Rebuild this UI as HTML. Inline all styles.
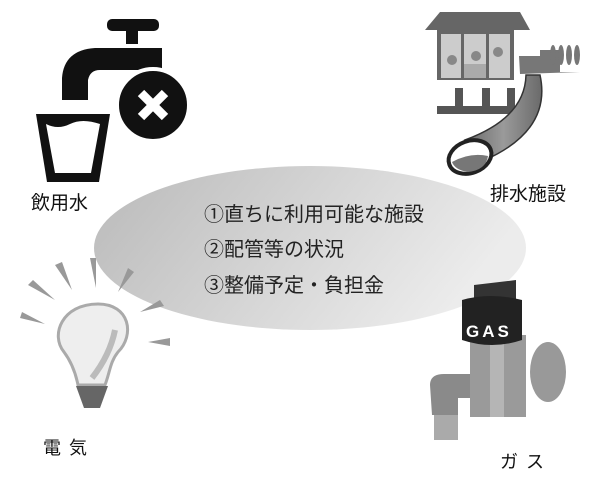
<!DOCTYPE html>
<html><head><meta charset="utf-8"><style>
html,body{margin:0;padding:0;background:#fff;width:600px;height:480px;overflow:hidden}
svg{display:block}
text{font-family:"Liberation Sans","Noto Sans CJK JP",sans-serif}
</style></head><body>
<svg width="600" height="480" viewBox="0 0 600 480" xmlns="http://www.w3.org/2000/svg">
<defs>
<linearGradient id="eg" x1="0" y1="0" x2="1" y2="0.3">
<stop offset="0" stop-color="#b9b9b9"/><stop offset="0.6" stop-color="#d8d8d8"/><stop offset="1" stop-color="#ececec"/>
</linearGradient>
<linearGradient id="pipe" x1="0" y1="0" x2="1" y2="0">
<stop offset="0" stop-color="#6a6a6a"/><stop offset="0.5" stop-color="#9a9a9a"/><stop offset="1" stop-color="#6a6a6a"/>
</linearGradient>
</defs>
<ellipse cx="310" cy="248" rx="216" ry="82" fill="url(#eg)"/>
<text x="204" y="221" font-size="20" fill="#222">①直ちに利用可能な施設</text>
<text x="204" y="256" font-size="20" fill="#222">②配管等の状況</text>
<text x="204" y="292" font-size="20" fill="#222">③整備予定・負担金</text>

<g fill="#111">
<rect x="107" y="19" width="52" height="12" rx="5"/>
<rect x="126" y="30" width="12" height="14"/>
<path d="M105 48 H162 V70 H100 Q90 70 88 80 V100 H62 V78 Q64 50 95 48 Z"/>
</g>
<circle cx="153" cy="105" r="36" fill="#111" stroke="#fff" stroke-width="4"/>
<path d="M141 93 L165 117 M165 93 L141 117" stroke="#fff" stroke-width="9"/>
<path d="M36 114 H110 L99 182 H47 Z" fill="#111"/>
<path d="M46 124 Q58 130 70 124 T100 124 L91 173 H55 Z" fill="#fff"/>
<text x="31" y="209" font-size="19" fill="#111">飲用水</text>

<g>
<path d="M425 30 L440 12 H520 L530 30 Z" fill="#666"/>
<rect x="437" y="30" width="77" height="50" fill="#666"/>
<rect x="441" y="34" width="20" height="44" fill="#ccc"/>
<rect x="464" y="34" width="22" height="44" fill="#ccc"/>
<rect x="489" y="34" width="21" height="44" fill="#ccc"/>
<circle cx="452" cy="60" r="5" fill="#888"/><circle cx="476" cy="56" r="5" fill="#888"/><circle cx="498" cy="52" r="5" fill="#888"/>
<rect x="464" y="64" width="22" height="14" fill="#aaa"/>
<rect x="437" y="106" width="94" height="8" fill="#555"/>
<rect x="455" y="88" width="8" height="20" fill="#555"/><rect x="482" y="88" width="8" height="20" fill="#555"/><rect x="507" y="88" width="8" height="20" fill="#555"/>
<path d="M519 56 H540 V50 H560 L560 72 H580 L520 74 Z" fill="#777"/>
<ellipse cx="553" cy="55" rx="3" ry="10" fill="#777"/><ellipse cx="561" cy="55" rx="3" ry="10" fill="#777"/><ellipse cx="569" cy="55" rx="3" ry="10" fill="#777"/><ellipse cx="577" cy="55" rx="3" ry="10" fill="#777"/>
<path d="M540 75 Q552 130 485 160 L465 140 Q525 118 526 75 Z" fill="url(#pipe)" stroke="#333" stroke-width="1.5"/>
<ellipse cx="470" cy="157" rx="22" ry="16" transform="rotate(-20 470 157)" fill="#fff" stroke="#222" stroke-width="4"/>
<path d="M452 162 Q470 152 488 156 Q486 170 468 172 Q455 170 452 162Z" fill="#777"/>
<text x="490" y="200" font-size="19" fill="#111">排水施設</text>
</g>

<g fill="#999">
<polygon points="55,265 62,262 72,290"/><polygon points="90,258 96,258 96,288"/><polygon points="128,268 134,272 118,292"/>
<polygon points="28,285 33,280 55,300"/><polygon points="160,300 164,306 140,312"/>
<polygon points="20,318 22,312 45,324"/><polygon points="170,338 170,346 148,342"/>
</g>
<path d="M98 304 C130 304 135 335 118 352 C110 362 110 372 105 385 H78 C75 370 70 360 64 352 C50 335 62 304 98 304Z" fill="#eee" stroke="#aaa" stroke-width="3"/>
<path d="M115 330 Q110 355 92 378" stroke="#bbb" stroke-width="6" fill="none"/>
<path d="M76 386 H108 L100 408 H84 Z" fill="#666"/>
<text x="43" y="454" font-size="18" fill="#111" letter-spacing="8">電気</text>

<ellipse cx="548" cy="372" rx="18" ry="30" fill="#999"/>
<rect x="470" y="335" width="56" height="82" fill="#9a9a9a"/>
<rect x="490" y="335" width="14" height="82" fill="#b5b5b5"/>
<path d="M474 285 L516 280 V300 H474 Z" fill="#333"/>
<path d="M462 300 Q490 292 522 300 V340 Q492 350 462 340 Z" fill="#222"/>
<text x="466" y="337" font-size="17" font-weight="bold" fill="#fff" letter-spacing="3">GAS</text>
<path d="M430 385 Q430 374 444 374 H470 V398 H458 V415 H432 Z" fill="#8a8a8a"/>
<rect x="434" y="415" width="24" height="25" fill="#aaa"/>
<text x="500" y="468" font-size="18" fill="#111" letter-spacing="8">ガス</text>
</svg>
</body></html>
